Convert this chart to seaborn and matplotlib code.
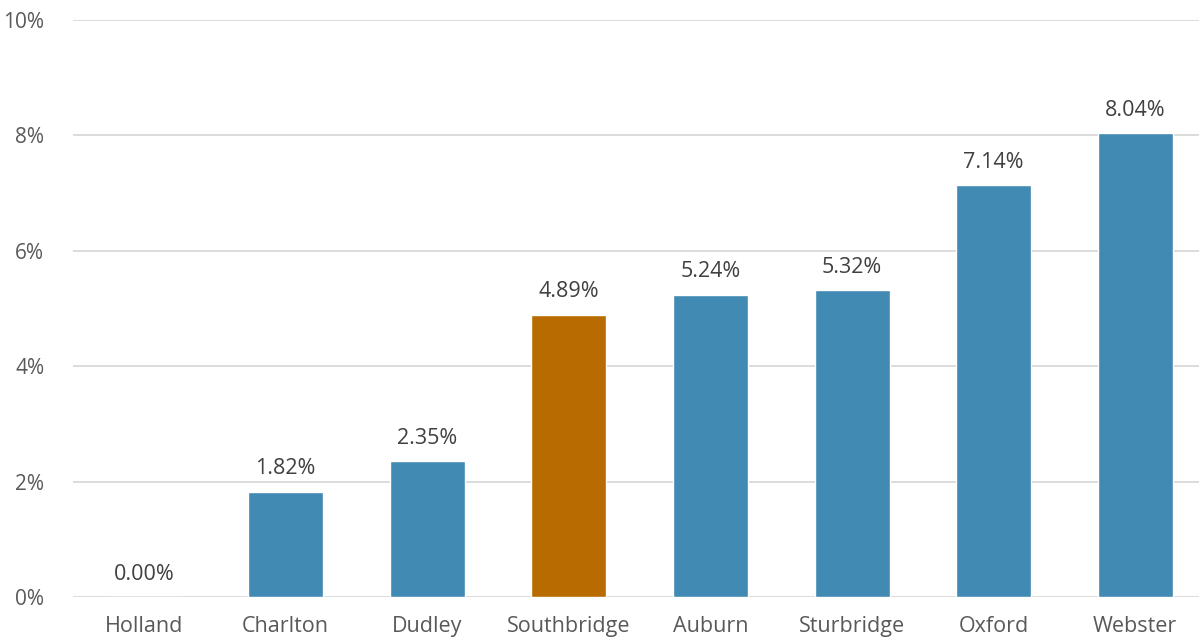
import matplotlib
matplotlib.use("Agg")
import matplotlib.pyplot as plt
import seaborn as sns
import pandas as pd
from matplotlib.ticker import FuncFormatter

towns = ["Holland", "Charlton", "Dudley", "Southbridge", "Auburn", "Sturbridge", "Oxford", "Webster"]
values = [0.00, 1.82, 2.35, 4.89, 5.24, 5.32, 7.14, 8.04]
highlight = "Southbridge"

BLUE = "#418AB3"
ORANGE = "#B86B00"

sns.set_theme(style="white")
plt.rcParams["font.family"] = ["Open Sans", "DejaVu Sans"]

df = pd.DataFrame({"town": towns, "value": values})
palette = {t: (ORANGE if t == highlight else BLUE) for t in towns}

fig = plt.figure(figsize=(11.99, 6.39), dpi=100)
ax = fig.add_axes([73.3 / 1199, 42 / 639, (1206 - 73.3) / 1199, 577 / 639])

sns.barplot(data=df, x="town", y="value", hue="town", palette=palette,
            width=0.53, legend=False, ax=ax, saturation=1)

ax.set_ylim(0, 10)
ax.set_xlim(-0.5, len(towns) - 0.5)
ax.set_yticks(range(0, 11, 2))
ax.yaxis.set_major_formatter(FuncFormatter(lambda v, p: f"{int(v)}%"))
ax.grid(axis="y", color="#D9D9D9", linewidth=1.3)
ax.set_axisbelow(True)
for s in ax.spines.values():
    s.set_visible(False)
ax.tick_params(axis="x", length=0, labelsize=15.5, colors="#595959", pad=14)
ax.tick_params(axis="y", length=0, labelsize=15, colors="#595959", pad=21)
ax.set_xlabel("")
ax.set_ylabel("")

for i, v in enumerate(values):
    ax.annotate(f"{v:.2f}%", (i, v), xytext=(0, 9), textcoords="offset points",
                ha="center", va="bottom", fontsize=15.5, color="#404040")

fig.savefig("out.png", dpi=100)
